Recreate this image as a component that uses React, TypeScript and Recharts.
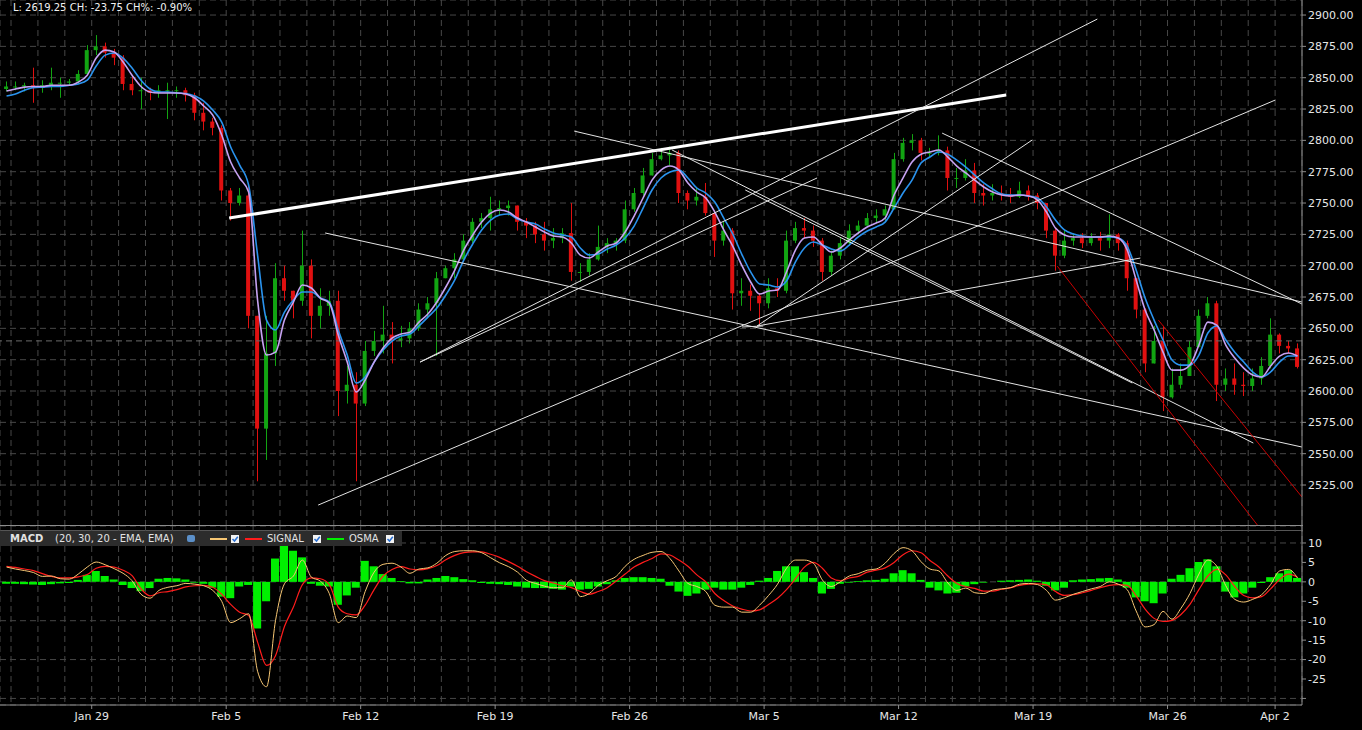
import React from "react";
import { Bar, CartesianGrid, ComposedChart, Line, ReferenceLine, XAxis, YAxis } from "recharts";

// trading days on the axis; Jan 23 only shows its last third
const days = [
  "Jan 23", "Jan 24", "Jan 25", "Jan 26",
  "Jan 29", "Jan 30", "Jan 31", "Feb 1", "Feb 2",
  "Feb 5", "Feb 6", "Feb 7", "Feb 8", "Feb 9",
  "Feb 12", "Feb 13", "Feb 14", "Feb 15", "Feb 16",
  "Feb 19", "Feb 20", "Feb 21", "Feb 22", "Feb 23",
  "Feb 26", "Feb 27", "Feb 28", "Mar 1", "Mar 2",
  "Mar 5", "Mar 6", "Mar 7", "Mar 8", "Mar 9",
  "Mar 12", "Mar 13", "Mar 14", "Mar 15", "Mar 16",
  "Mar 19", "Mar 20", "Mar 21", "Mar 22", "Mar 23",
  "Mar 26", "Mar 27", "Mar 28", "Mar 29",
  "Apr 2"
];
const weekLabels = ["Jan 29", "Feb 5", "Feb 12", "Feb 19", "Feb 26", "Mar 5", "Mar 12", "Mar 19", "Mar 26", "Apr 2"];

const priceTicks = [2525, 2550, 2575, 2600, 2625, 2650, 2675, 2700, 2725, 2750, 2775, 2800, 2825, 2850, 2875, 2900];
const macdTicks = [-30, -25, -20, -15, -10, -5, 0, 5, 10];

// three bars per day, first one is the last third of Jan 23
const firstOpen = 2841;
const highs = [
  2847,
  2847, 2846, 2858, 2848, 2858, 2850, 2849, 2856, 2876,
  2884, 2878, 2873, 2868, 2852, 2850, 2842, 2844, 2846, 2843, 2842, 2838, 2830, 2818, 2812,
  2762, 2762, 2766, 2660, 2660, 2702, 2700, 2680, 2728, 2705, 2682, 2680, 2680, 2620, 2615,
  2640, 2648, 2668, 2655, 2652, 2655, 2670, 2675, 2695, 2700, 2710, 2725, 2738, 2742, 2755,
  2752, 2752, 2748, 2738, 2735, 2735, 2730, 2730, 2750, 2702, 2710, 2732, 2722, 2722, 2752,
  2762, 2778, 2790, 2794, 2795, 2792, 2760, 2762, 2766, 2744, 2735, 2730, 2690, 2685, 2678,
  2690, 2690, 2728, 2735, 2738, 2732, 2722, 2712, 2722, 2733, 2736, 2742, 2745, 2748, 2790,
  2802, 2805, 2802, 2794, 2804, 2795, 2778, 2785, 2782, 2765, 2765, 2764, 2762, 2767, 2764,
  2758, 2750, 2730, 2728, 2726, 2726, 2726, 2727, 2741, 2726, 2720, 2690, 2666, 2652, 2652,
  2618, 2622, 2640, 2665, 2675, 2672, 2618, 2622, 2615, 2618, 2627, 2658,
  2646, 2640, 2638
];
const lows = [
  2839,
  2840, 2839, 2830, 2838, 2840, 2834, 2844, 2845, 2853,
  2868, 2866, 2860, 2840, 2836, 2825, 2832, 2834, 2817, 2834, 2831, 2816, 2808, 2804, 2752,
  2736, 2748, 2650, 2528, 2545, 2620, 2672, 2658, 2668, 2642, 2650, 2660, 2580, 2590, 2528,
  2588, 2628, 2630, 2622, 2635, 2638, 2648, 2658, 2628, 2690, 2690, 2705, 2718, 2730, 2728,
  2740, 2740, 2728, 2722, 2718, 2712, 2714, 2718, 2688, 2687, 2692, 2704, 2710, 2712, 2718,
  2743, 2756, 2772, 2784, 2780, 2750, 2745, 2748, 2740, 2707, 2716, 2665, 2668, 2664, 2653,
  2666, 2675, 2678, 2718, 2722, 2715, 2688, 2692, 2705, 2716, 2725, 2732, 2734, 2735, 2745,
  2783, 2792, 2784, 2786, 2788, 2760, 2762, 2768, 2750, 2748, 2752, 2752, 2750, 2754, 2752,
  2745, 2722, 2696, 2706, 2716, 2714, 2716, 2712, 2714, 2712, 2680, 2658, 2615, 2622, 2584,
  2594, 2602, 2612, 2635, 2658, 2592, 2600, 2597, 2596, 2600, 2605, 2618,
  2630, 2630, 2618
];
const closes = [
  2843,
  2843, 2844, 2842, 2844, 2846, 2846, 2847, 2853, 2872,
  2875, 2870, 2866, 2845, 2840, 2840, 2838, 2840, 2840, 2840, 2836, 2822, 2815, 2810, 2760,
  2750, 2756, 2660, 2570, 2630, 2690, 2680, 2672, 2700, 2660, 2668, 2672, 2600, 2605, 2590,
  2632, 2640, 2645, 2640, 2642, 2650, 2665, 2670, 2690, 2698, 2705, 2720, 2735, 2738, 2745,
  2746, 2748, 2735, 2732, 2725, 2720, 2722, 2726, 2695, 2695, 2705, 2715, 2718, 2720, 2745,
  2758, 2772, 2785, 2788, 2790, 2758, 2752, 2755, 2742, 2720, 2728, 2678, 2680, 2676, 2670,
  2682, 2680, 2720, 2730, 2728, 2720, 2695, 2708, 2718, 2728, 2732, 2738, 2740, 2745, 2785,
  2798, 2800, 2790, 2790, 2792, 2770, 2770, 2776, 2758, 2756, 2758, 2757, 2755, 2760, 2756,
  2750, 2728, 2708, 2720, 2722, 2718, 2722, 2720, 2725, 2718, 2690, 2665, 2622, 2640, 2595,
  2605, 2612, 2635, 2660, 2670, 2605, 2610, 2605, 2604, 2610, 2620, 2645,
  2636, 2634, 2619.25
];
const fastMa = [
  2839.4,
  2841, 2842.5, 2843, 2843, 2844, 2844, 2844, 2846.5, 2852,
  2865.7, 2872, 2870.5, 2862.5, 2852, 2843, 2838.6, 2837.8, 2837.8, 2837.8, 2837, 2833.8, 2827.4, 2820.2, 2804.3,
  2782.7, 2770, 2758.8, 2672.6, 2628.7, 2631, 2656.6, 2671, 2684.6, 2682.2, 2674.2, 2670.2, 2644.7, 2623.1, 2599.2,
  2608.8, 2623.1, 2634.3, 2642.3, 2645.5, 2647, 2655, 2661.4, 2671, 2683, 2696.5, 2712.5, 2724.5, 2734.8, 2742,
  2744.4, 2742.8, 2738, 2734.8, 2730.9, 2726.9, 2723.7, 2722.9, 2718.1, 2708.5, 2706.1, 2710.9, 2715.7, 2718.1, 2726.9,
  2739.6, 2754, 2768.3, 2776.3, 2779.5, 2776.3, 2766, 2758.8, 2754, 2742.8, 2728.5, 2715.7, 2700.5, 2687, 2677.4,
  2679.8, 2680.6, 2695, 2712.5, 2722.1, 2722.9, 2716.5, 2710.9, 2714.1, 2720.5, 2726.1, 2730.9, 2734, 2738, 2756.4,
  2770, 2782.7, 2789, 2790.7, 2792.3, 2786.7, 2779.5, 2774, 2768.3, 2762.8, 2758.8, 2756.4, 2755.6, 2756.4, 2755.6,
  2752.4, 2742.8, 2730, 2724.5, 2722.9, 2722.9, 2722.9, 2722.9, 2723.7, 2722.1, 2712.5, 2688.6, 2664.6, 2648.7, 2631,
  2616.7, 2616.7, 2620.7, 2636.7, 2655, 2652.6, 2636.7, 2626.3, 2618.3, 2612.8, 2611.2, 2619.9,
  2627.9, 2630.3, 2627.9
];
const slowMa = [
  2835.4,
  2837, 2840, 2842, 2842.5, 2843, 2843, 2844, 2845, 2848,
  2859.3, 2868, 2869.7, 2865.7, 2857.7, 2848, 2841, 2838.6, 2838.6, 2837.8, 2837.4, 2835.4, 2831.4, 2824.2, 2814.6,
  2794.7, 2780.3, 2764.4, 2708.5, 2656.6, 2648.7, 2663, 2672.6, 2679, 2679, 2674.2, 2671, 2648.7, 2628.7, 2606.4,
  2611.2, 2623.1, 2632.7, 2639.9, 2643.9, 2645.5, 2651.9, 2659, 2666.2, 2676.6, 2688.6, 2704.5, 2717.3, 2728.5, 2736.4,
  2740.4, 2741.2, 2737.2, 2734.8, 2733.2, 2729.3, 2726.1, 2724.5, 2722.9, 2714.1, 2708.5, 2709.3, 2713.3, 2716.5, 2722.1,
  2731.6, 2746, 2760.4, 2770, 2774.7, 2776.3, 2770, 2762, 2758, 2750.8, 2738, 2725.3, 2709.3, 2695, 2685.4,
  2684.6, 2683, 2687.8, 2703, 2714.1, 2718.9, 2716.5, 2713.3, 2711.7, 2716.5, 2722.9, 2727.7, 2730.9, 2734.8, 2746,
  2758, 2768.3, 2781.9, 2786.7, 2790.7, 2789, 2784.3, 2778.7, 2772.3, 2766, 2761.2, 2757.2, 2756.4, 2756.4, 2755.6,
  2754, 2746.8, 2736.4, 2728.5, 2725.3, 2723.7, 2722.9, 2722.9, 2722.9, 2722.1, 2715.7, 2696.5, 2674.2, 2656.6, 2640.7,
  2624.7, 2620.7, 2620.7, 2628.7, 2646.3, 2651.9, 2640.7, 2631, 2623.1, 2615.2, 2611.2, 2615.2,
  2623.1, 2627.9, 2627.9
];
const macdLine = [
  3.8,
  3.3, 2.9, 2.4, 1.4, 1.5, 0.8, 0.7, 2.0, 3.8,
  5.1, 4.4, 3.4, 2.2, 0.3, -3.2, -4.2, -2.2, -1.4, -1.0, -0.4, -0.6, -1.0, -2.2, -5.0,
  -10.5, -9.5, -8.2, -23, -27, -10, -0.5, 1.5, 5.6, 1.2, 0.2, -3.0, -10.5, -8.8, -9.2,
  -2.5, 2.5, 4.5, 4.8, 3.8, 2.2, 3.3, 3.6, 4.8, 6.8, 7.8, 8.0, 8.0, 7.5, 6.2,
  4.9, 3.9, 2.5, 0.4, -0.4, -1.1, -1.5, -1.5, 0.5, -3.8, -3.0, -0.9, 0.3, 1.4, 4.0,
  5.8, 6.8, 7.6, 7.8, 6.0, 2.8, -0.4, -1.2, -2.5, -6.0, -6.5, -6.5, -7.8, -7.8, -6.0,
  -3.5, -0.6, 3.5, 5.6, 5.6, 4.8, 0.5, -1.2, 0.0, 1.5, 2.1, 3.0, 3.3, 4.8, 7.3,
  8.8, 8.0, 5.2, 3.3, 2.8, -0.3, -2.2, -1.6, -2.8, -3.0, -2.1, -1.8, -1.5, -0.6, -0.4,
  -0.7, -2.2, -4.7, -4.1, -3.2, -2.5, -1.8, -1.2, 0.0, -0.6, -2.0, -7.5, -11.6, -11.0, -7.6,
  -9.6, -6.8, -3.0, 2.0, 5.6, 4.0, -1.0, -4.5, -5.2, -4.5, -3.3, -0.7,
  2.8, 3.2, 1.0
];
const signalLine = [
  4.0,
  3.7, 3.3, 2.9, 2.1, 1.4, 1.0, 1.0, 1.3, 1.9,
  3.5, 4.0, 3.8, 3.0, 1.6, -1.8, -3.6, -2.8, -2.5, -2.0, -1.3, -1.0, -0.9, -1.4, -3.2,
  -5.8, -7.8, -8.6, -15.5, -21.5, -19, -11.5, -6.5, -0.7, 1.0, 0.8, -0.7, -6.5, -8.2, -8.5,
  -6.0, -2.0, 1.5, 3.2, 3.9, 3.3, 3.1, 3.4, 4.2, 5.7, 6.8, 7.5, 7.7, 7.7, 7.1,
  6.3, 5.2, 4.0, 2.6, 1.4, 0.3, -0.3, -1.0, -1.5, -2.5, -3.2, -2.5, -1.5, 0.2, 2.0,
  3.8, 5.0, 6.0, 7.2, 6.9, 5.6, 4.0, 1.8, 0.0, -3.0, -4.8, -6.2, -7.0, -7.5, -7.2,
  -5.8, -4.2, -2.0, 0.8, 3.8, 5.0, 3.5, 1.0, 0.3, 1.0, 1.4, 2.5, 3.0, 3.6, 5.0,
  7.0, 8.0, 7.5, 5.5, 3.8, 1.5, -0.4, -1.2, -1.7, -2.4, -2.4, -1.9, -1.5, -0.9, -0.6,
  -0.5, -0.8, -2.5, -3.5, -3.3, -2.8, -2.2, -1.5, -0.9, -0.7, -0.9, -3.6, -7.0, -9.4, -10.2,
  -9.9, -8.4, -5.8, -2.0, 1.5, 3.2, 1.8, -1.2, -3.5, -4.1, -3.8, -1.8,
  0.6, 2.0, 1.2
];
const osma = [
  -0.5,
  -0.5, -0.6, -0.7, -0.8, -0.6, -0.4, -0.3, 0.5, 1.8,
  2.8, 1.5, 0.6, -0.8, -1.6, -2.4, -1.6, 0.8, 1.0, 0.9, 0.6, -0.2, -0.5, -1.5, -3.8,
  -4.2, -1.2, -0.8, -12.0, -5.0, 6.0, 11.5, 8.0, 6.3, -0.5, -1.0, -1.2, -5.9, -3.5, -1.5,
  5.4, 4.0, 2.0, 1.0, 0.2, -0.4, -0.4, 0.6, 1.0, 1.5, 1.2, 0.7, 0.4, -0.3, -0.5,
  -0.6, -0.8, -1.2, -1.5, -1.6, -1.6, -1.8, -2.0, -1.2, -2.0, -1.8, -1.2, -0.6, 0.4, 1.0,
  1.2, 1.2, 1.0, 0.8, -1.0, -2.5, -3.6, -3.0, -2.0, -1.5, -2.0, -2.0, -1.5, -0.8, 0.3,
  1.0, 2.8, 4.0, 4.0, 2.5, 1.0, -3.0, -1.8, -0.5, -0.2, 0.2, 0.4, 0.5, 0.8, 2.2,
  3.0, 2.2, 0.5, -1.5, -2.2, -3.0, -2.8, -1.2, -0.6, -0.2, 0.0, 0.3, 0.4, 0.5, 0.6,
  0.3, -1.0, -2.2, -1.5, 0.4, 0.6, 0.7, 0.9, 1.0, 0.6, -1.5, -4.0, -5.0, -5.5, -3.0,
  0.8, 1.8, 3.5, 5.1, 5.8, 4.0, -2.5, -4.0, -3.0, -1.5, -0.3, 1.2,
  2.2, 3.0, 1.0
];

// drawn trendlines, in (trading day, price)
const trendLines = [
  { kind: "thick", from: [8.11, 2738.0], to: [37.0, 2836.2] },
  { kind: "thin", from: [11.42, 2509.0], to: [47.01, 2832.2] },
  { kind: "thin", from: [11.68, 2726.1], to: [48.0, 2555.3] },
  { kind: "thin", from: [20.94, 2807.4], to: [48.0, 2671.0] },
  { kind: "thin", from: [15.21, 2623.1], to: [40.39, 2896.8] },
  { kind: "thin", from: [15.21, 2623.1], to: [29.97, 2770.0] },
  { kind: "thin", from: [24.58, 2792.3], to: [46.19, 2558.5] },
  { kind: "thin", from: [27.3, 2760.4], to: [41.69, 2606.4] },
  { kind: "thin", from: [27.74, 2651.9], to: [37.97, 2800.3] },
  { kind: "thin", from: [27.74, 2651.9], to: [41.99, 2706.1] },
  { kind: "thin", from: [27.18, 2651.1], to: [27.97, 2651.9] },
  { kind: "thin", from: [34.62, 2805.8], to: [48.0, 2669.4] },
  { kind: "red", from: [38.9, 2699.7], to: [46.34, 2493.1] },
  { kind: "red", from: [42.66, 2656.6], to: [48.0, 2515.4] }
];

const X_MIN = -0.41;
const X_MAX = 48;
const GREEN = "#12a412";
const RED = "#e01010";
const GRID = "#474747";
const AXIS = "#8c8c8c";

const bars = closes.map((close, j) => {
  const slot = j + 2;
  const day = Math.floor(slot / 3);
  return {
    t: day - 1 + ((slot % 3) + 0.5) / 3,
    open: j === 0 ? firstOpen : closes[j - 1],
    high: highs[j],
    low: lows[j],
    close,
    range: [lows[j], highs[j]],
    fast: fastMa[j],
    slow: slowMa[j],
    macd: macdLine[j],
    signal: signalLine[j],
    osma: osma[j]
  };
});

const dayTicks = days.map((_, i) => i - 1).filter((t) => t >= 0);

function Candle(props: any) {
  const { x, y, width, height, payload } = props;
  if (x == null || y == null) return null;
  const top = Math.min(y, y + height);
  const h = Math.abs(height);
  const { open, close, high, low } = payload;
  const span = high - low || 1;
  const at = (v: number) => top + ((high - v) / span) * h;
  const color = close >= open ? GREEN : RED;
  const cx = Math.round(x + width / 2) + 0.5;
  const b1 = at(Math.max(open, close));
  const b2 = at(Math.min(open, close));
  return (
    <g>
      <line x1={cx} x2={cx} y1={top} y2={top + h} stroke={color} strokeWidth={1} />
      <rect x={x} y={b1} width={width} height={Math.max(1, b2 - b1)} fill={color} />
    </g>
  );
}

function DateTick(props: any) {
  const { x, y, payload } = props;
  const label = days[payload.value + 1];
  if (!weekLabels.includes(label)) return null;
  return (
    <g>
      <line x1={x} x2={x} y1={y - 8} y2={y - 4} stroke={AXIS} />
      <text x={x} y={y} dy={7} textAnchor="middle" fill="#e6e6e6" fontSize={11}>
        {label}
      </text>
    </g>
  );
}

function CheckBox({ x }: { x: number }) {
  return (
    <svg style={{ position: "absolute", left: x, top: 4 }} width={8} height={8}>
      <rect x={0} y={0} width={8} height={8} fill="#f4f4f4" />
      <path d="M1.5 4 L3.5 6 L6.8 1.8" stroke="#2a6fd0" strokeWidth={1.5} fill="none" />
    </svg>
  );
}

function LegendSwatch({ x, color }: { x: number; color: string }) {
  return <div style={{ position: "absolute", left: x, top: 7, width: 17, height: 2, background: color }} />;
}

const styleOf: Record<string, { stroke: string; width: number }> = {
  thick: { stroke: "#ffffff", width: 3 },
  thin: { stroke: "#e4e4e4", width: 1 },
  red: { stroke: "#c80000", width: 1 }
};

export default function App() {
  return (
    <div
      style={{
        position: "absolute",
        left: 0,
        top: 0,
        width: 1362,
        height: 730,
        background: "#000",
        fontFamily: "'DejaVu Sans', sans-serif",
        overflow: "hidden"
      }}
    >
      <div style={{ position: "absolute", left: 0, top: 0 }}>
        <ComposedChart width={1362} height={526} data={bars} margin={{ top: 0, right: 0, bottom: 0, left: 0 }}>
          <CartesianGrid stroke={GRID} strokeDasharray="6 4" />
          <XAxis type="number" dataKey="t" domain={[X_MIN, X_MAX]} ticks={dayTicks} hide allowDataOverflow />
          <YAxis
            orientation="right"
            width={60}
            domain={[2492.3, 2912]}
            ticks={priceTicks}
            allowDataOverflow
            tickFormatter={(v: number) => v.toFixed(2)}
            tick={{ fill: "#e6e6e6", fontSize: 11 }}
            tickSize={4}
            tickLine={{ stroke: AXIS }}
            axisLine={{ stroke: AXIS }}
          />
          <ReferenceLine y={2640} stroke="#6a6a6a" strokeDasharray="6 4" />
          <Bar dataKey="range" shape={<Candle />} barSize={4} isAnimationActive={false} />
          <Line type="monotone" dataKey="slow" stroke="#2a93ee" strokeWidth={1.6} dot={false} activeDot={false} isAnimationActive={false} />
          <Line type="monotone" dataKey="fast" stroke="#c6a2f2" strokeWidth={1.6} dot={false} activeDot={false} isAnimationActive={false} />
          {trendLines.map((ln, i) => (
            <ReferenceLine
              key={i}
              segment={[
                { x: ln.from[0], y: ln.from[1] },
                { x: ln.to[0], y: ln.to[1] }
              ]}
              stroke={styleOf[ln.kind].stroke}
              strokeWidth={styleOf[ln.kind].width}
              ifOverflow="hidden"
            />
          ))}
        </ComposedChart>
      </div>

      <div style={{ position: "absolute", left: 0, top: 525, width: 1303, height: 1, background: AXIS }} />
      <div style={{ position: "absolute", left: 0, top: 530, width: 1303, height: 1, background: "#555" }} />

      <div style={{ position: "absolute", left: 0, top: 526 }}>
        <ComposedChart width={1362} height={204} data={bars} margin={{ top: 0, right: 0, bottom: 0, left: 0 }}>
          <CartesianGrid stroke={GRID} strokeDasharray="6 4" />
          <XAxis
            type="number"
            dataKey="t"
            domain={[X_MIN, X_MAX]}
            ticks={dayTicks}
            interval={0}
            height={25}
            allowDataOverflow
            tick={<DateTick />}
            tickLine={false}
            axisLine={{ stroke: AXIS }}
          />
          <YAxis
            orientation="right"
            width={60}
            domain={[-31.69, 14.37]}
            ticks={macdTicks}
            allowDataOverflow
            tickFormatter={(v: number) => (v === -30 ? "" : String(v))}
            tick={{ fill: "#e6e6e6", fontSize: 11 }}
            tickSize={4}
            tickLine={{ stroke: AXIS }}
            axisLine={{ stroke: AXIS }}
          />
          <Bar dataKey="osma" fill="#00f000" barSize={9} isAnimationActive={false} />
          <Line type="monotone" dataKey="signal" stroke="#ff1c1c" strokeWidth={1.2} dot={false} activeDot={false} isAnimationActive={false} />
          <Line type="monotone" dataKey="macd" stroke="#f7c774" strokeWidth={1} dot={false} activeDot={false} isAnimationActive={false} />
        </ComposedChart>
      </div>

      <div style={{ position: "absolute", left: 13, top: 2, color: "#f2f2f2", fontSize: 10, whiteSpace: "nowrap" }}>
        L: 2619.25 CH: -23.75 CH%: -0.90%
      </div>

      <div
        style={{
          position: "absolute",
          left: 0,
          top: 531,
          width: 402,
          height: 15,
          background: "#2c2c2c",
          color: "#e2e2e2",
          fontSize: 10,
          lineHeight: "15px",
          whiteSpace: "nowrap"
        }}
      >
        <span style={{ position: "absolute", left: 10, fontWeight: "bold" }}>MACD</span>
        <span style={{ position: "absolute", left: 55 }}>(20, 30, 20 - EMA, EMA)</span>
        <span style={{ position: "absolute", left: 187, top: 4, width: 8, height: 7, background: "#5b8fc8", borderRadius: 2 }} />
        <LegendSwatch x={210} color="#f7c774" />
        <CheckBox x={231} />
        <LegendSwatch x={245} color="#ff1c1c" />
        <span style={{ position: "absolute", left: 267 }}>SIGNAL</span>
        <CheckBox x={313} />
        <LegendSwatch x={327} color="#00f000" />
        <span style={{ position: "absolute", left: 349 }}>OSMA</span>
        <CheckBox x={386} />
      </div>
    </div>
  );
}
